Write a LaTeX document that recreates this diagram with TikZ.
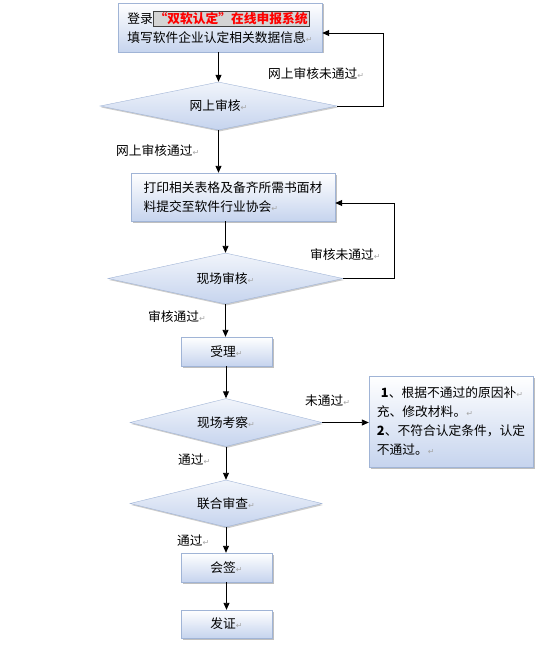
\documentclass[tikz,border=0pt]{standalone}
\usepackage{fontspec}
\setmainfont{Noto Sans CJK SC}
\newfontfamily\symfont{DejaVu Sans}
\usetikzlibrary{shapes.geometric,arrows.meta,shadows}
\definecolor{boxblue}{RGB}{198,212,238}
\definecolor{boxline}{RGB}{160,180,214}
\definecolor{hlgray}{RGB}{212,212,212}
\newcommand\retmark{{\symfont\fontsize{8}{8}\selectfont\textcolor{gray!70}{↵}}}
\newcommand\hltext[1]{{\setlength\fboxsep{1pt}\setlength\fboxrule{0.7pt}\fcolorbox{black!75}{hlgray}{\textcolor{red}{\bfseries #1}}}}
\tikzset{
	stepbox/.style={draw=boxline, top color=white, bottom color=boxblue, align=left, inner sep=0pt,
		drop shadow={shadow xshift=1.5bp, shadow yshift=-1.5bp, fill=black, opacity=0.25}},
	check/.style={diamond, aspect=5, draw=boxline, top color=boxblue!25, bottom color=boxblue, inner sep=0pt,
		drop shadow={shadow xshift=1bp, shadow yshift=-1.5bp, fill=black, opacity=0.2}},
	arr/.style={-{Triangle[length=7bp,width=6bp]}, line width=0.9bp},
	lab/.style={anchor=west, inner sep=0pt}
}
\begin{document}
\begin{tikzpicture}[x=1bp, y=-1bp, font=\fontsize{12.8}{19}\selectfont]
	\useasboundingbox (0,0) rectangle (554,651);
	\node[stepbox, minimum width=204bp, minimum height=49bp] (login) at (220,27.5) {登录\hltext{“双软认定”在线申报系统}\\填写软件企业认定相关数据信息\retmark};
	\node[check, minimum width=237bp, minimum height=48bp] (online) at (218.5,106) {网上审核\retmark};
	\node[stepbox, minimum width=204bp, minimum height=48bp] (print) at (233,197) {打印相关表格及备齐所需书面材\\料提交至软件行业协会\retmark};
	\node[check, minimum width=235bp, minimum height=51bp] (site) at (225.5,278.5) {现场审核\retmark};
	\node[stepbox, minimum width=91bp, minimum height=29bp] (accept) at (226.5,351.5) {受理\retmark};
	\node[check, minimum width=192bp, minimum height=48bp] (visit) at (226,422.5) {现场考察\retmark};
	\node[stepbox, minimum width=164bp, minimum height=91bp] (fix) at (451,421.5) {\hspace{4bp}\textbf{1}、根据不通过的原因补\retmark\\充、修改材料。\retmark\\\textbf{2}、不符合认定条件，认定\\不通过。\retmark};
	\node[check, minimum width=192bp, minimum height=47bp] (joint) at (226,503.5) {联合审查\retmark};
	\node[stepbox, minimum width=91bp, minimum height=29bp] (sign) at (226.5,567.5) {会签\retmark};
	\node[stepbox, minimum width=91bp, minimum height=28bp] (cert) at (226.5,624) {发证\retmark};
	\node[lab] (failnet) at (268,74) {网上审核未通过\retmark};
	\node[lab] (passnet) at (116,151) {网上审核通过\retmark};
	\node[lab] (failsite) at (310,255) {审核未通过\retmark};
	\node[lab] (passsite) at (148,317) {审核通过\retmark};
	\node[lab] (failvisit) at (305,401) {未通过\retmark};
	\node[lab] (passvisit) at (178,460) {通过\retmark};
	\node[lab] (passjoint) at (177,541) {通过\retmark};
	\coordinate (back1) at (383,33);
	\coordinate (back2) at (394,203);
	\draw[arr] (login.south -| online.north) -- (online.north);
	\draw[arr] (online.south) -- (online.south |- print.north);
	\draw[arr] (print.south -| site.north) -- (site.north);
	\draw[arr] (site.south) -- (site.south |- accept.north);
	\draw[arr] (accept.south -| visit.north) -- (visit.north);
	\draw[arr] (visit.south) -- (joint.north);
	\draw[arr] (joint.south) -- (joint.south |- sign.north);
	\draw[arr] (sign) -- (cert);
	\draw[arr] (visit.east) -- (visit.east -| fix.west);
	\draw[arr] (online.east) -| (back1) -- (back1 -| login.east);
	\draw[arr] (site.east) -| (back2) -- (back2 -| print.east);
\end{tikzpicture}
\end{document}
